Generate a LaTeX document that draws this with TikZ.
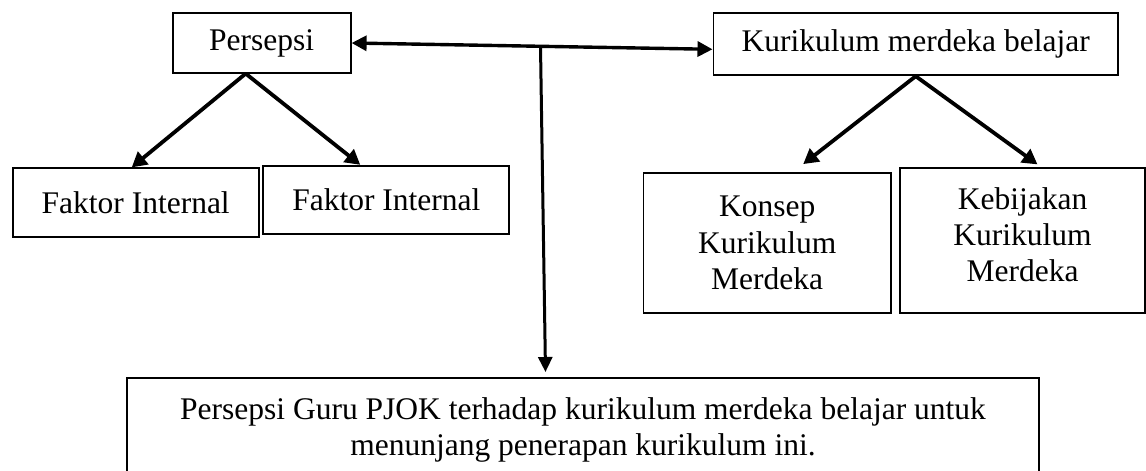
\documentclass[tikz,border=0pt]{standalone}
\usepackage{fontspec}
\setmainfont{Liberation Serif}
\usetikzlibrary{arrows.meta,calc}
\begin{document}
\begin{tikzpicture}[x=1pt,y=-1pt,
  box/.style={draw,line width=1.8pt,inner sep=0pt,align=center,font=\fontsize{31.5}{36.3}\selectfont},
  arr/.style={line width=3.8pt,-{Triangle[length=15pt,width=16pt]}},
  harr/.style={line width=3.4pt,{Triangle[length=15pt,width=15pt]}-{Triangle[length=15pt,width=15pt]}},
  varr/.style={line width=3pt,-{Triangle[length=15pt,width=14pt]}},
  ]
\useasboundingbox (0,0) rectangle (1146,471);
\clip (0,0) rectangle (1146,471);
\node[box,minimum width=178pt,minimum height=59.4pt] (per) at (261.7,43) {Persepsi};
\node[box,minimum width=404.6pt,minimum height=62.6pt] (kur) at (915.7,44) {Kurikulum merdeka belajar};
\node[box,minimum width=246pt,minimum height=68.4pt] (f1) at (135.7,202.5) {Faktor Internal};
\node[box,minimum width=246pt,minimum height=68.3pt] (f2) at (386.3,199.9) {Faktor Internal};
\node[box,minimum width=247.6pt,minimum height=140pt] (kon) at (767.2,243) {Konsep\\Kurikulum\\Merdeka};
\node[box,minimum width=245pt,minimum height=145pt] (keb) at (1022.5,240.8) {Kebijakan\\Kurikulum\\Merdeka\\[-24pt]\mbox{}};
\node[box,minimum width=912.6pt,minimum height=104pt] (bot) at (583,430) {Persepsi Guru PJOK terhadap kurikulum merdeka belajar untuk\\menunjang penerapan kurikulum ini.};
\coordinate (j) at (540.5,46.4);
\coordinate (jb) at (545.5,372);
\draw[harr] (per.east) -- ($(kur.west)+(0,5.3)$);
\draw[varr] (j) -- (jb);
\draw[arr] ($(per.south)+(-16,0)$) -- ($(f1.north)+(-4,0)$);
\draw[arr] ($(per.south)+(-16,0)$) -- ($(f2.north)+(-26,0)$);
\draw[arr] (kur.south) -- ($(kon.north)+(36,-8)$);
\draw[arr] (kur.south) -- ($(keb.north)+(15,-3)$);
\end{tikzpicture}
\end{document}
